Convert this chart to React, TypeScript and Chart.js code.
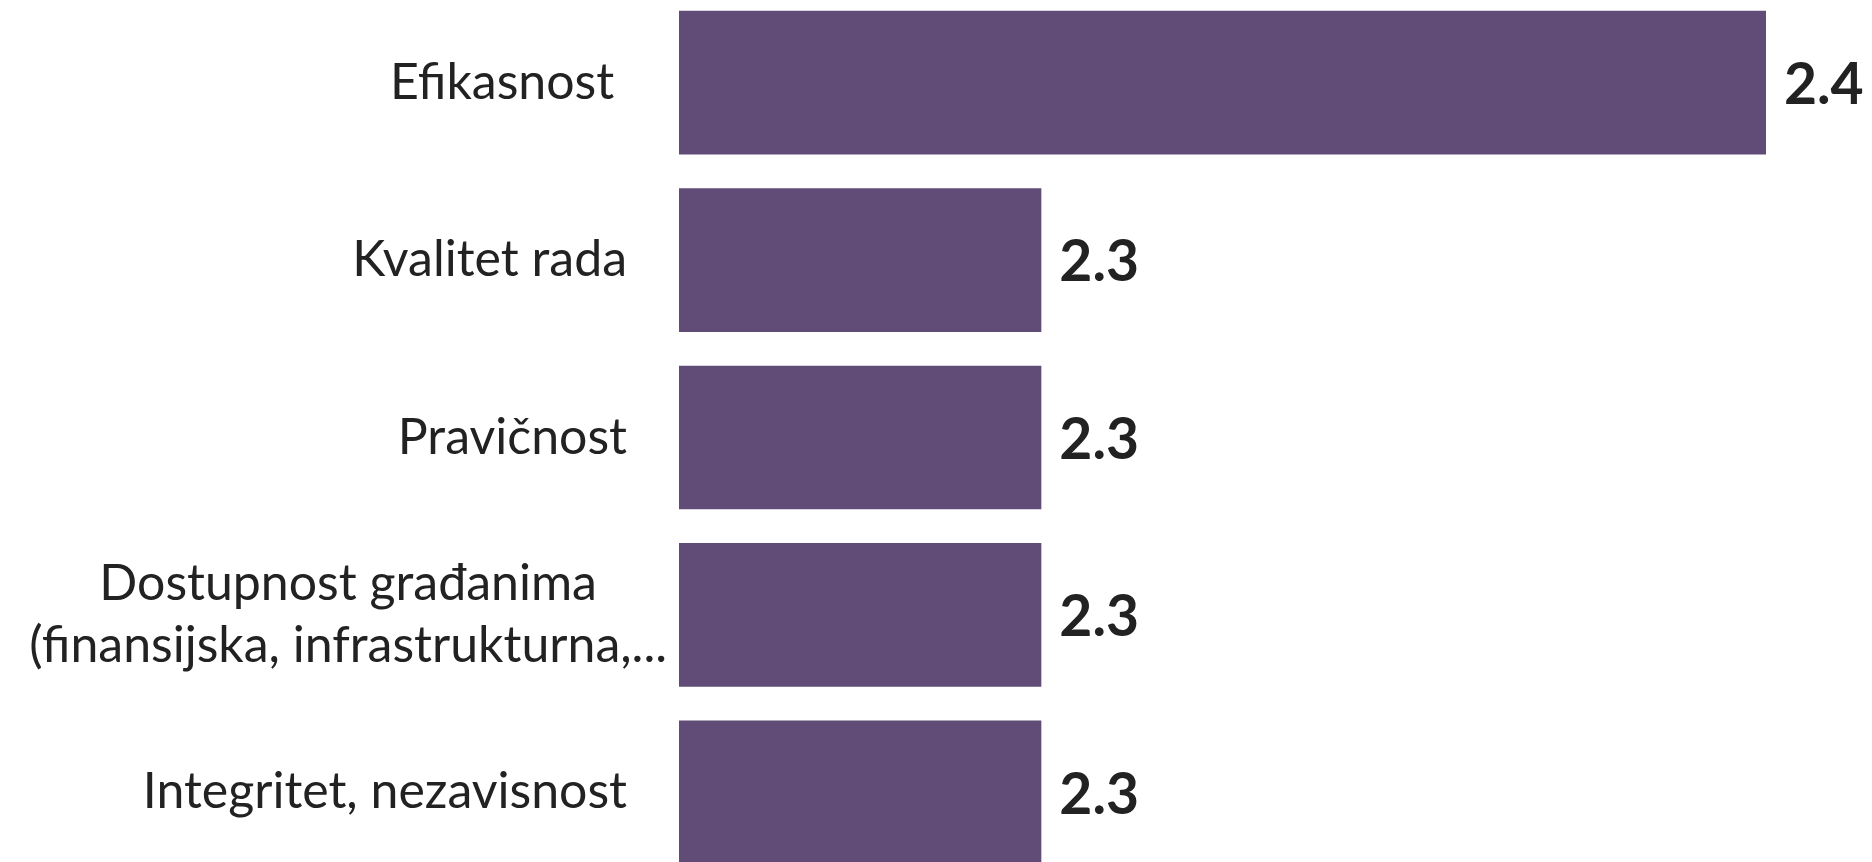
import React, { useEffect, useRef } from "react";
import { Chart, registerables } from "chart.js";

Chart.register(...registerables);

const categories: (string | string[])[] = [
  "Efikasnost ",
  "Kvalitet rada",
  "Pravičnost",
  ["Dostupnost građanima", "(finansijska, infrastrukturna,..."],
  "Integritet, nezavisnost",
];
const values: number[] = [2.4, 2.3, 2.3, 2.3, 2.3];
const axisMin = 2.25;
const axisMax = 2.4;

const BAR_COLOR = "#614C77";
const TEXT_COLOR = "#222222";
const LABEL_FONT = "50px Lato";
const VALUE_FONT = "bold 57px Lato";

const labelPlugin = {
  id: "customLabels",
  afterDatasetsDraw(chart: any) {
    const ctx = chart.ctx;
    const yScale = chart.scales.y;
    const area = chart.chartArea;
    const meta = chart.getDatasetMeta(0);
    ctx.save();
    // value labels
    ctx.font = VALUE_FONT;
    ctx.fillStyle = TEXT_COLOR;
    ctx.textAlign = "left";
    ctx.textBaseline = "middle";
    meta.data.forEach((bar: any, i: number) => {
      ctx.fillText(values[i].toFixed(1), bar.x + 18, bar.y + 3);
    });
    // category labels
    ctx.font = LABEL_FONT;
    const rightEdge = area.left - 52;
    categories.forEach((lab, i) => {
      const y = yScale.getPixelForValue(i);
      if (Array.isArray(lab)) {
        const widest = Math.max(...lab.map((l) => ctx.measureText(l).width));
        const cx = area.left - 12 - widest / 2;
        const lh = 62;
        const y0 = y - ((lab.length - 1) * lh) / 2;
        ctx.textAlign = "center";
        lab.forEach((l, k) => ctx.fillText(l, cx, y0 + k * lh));
      } else {
        ctx.textAlign = "right";
        ctx.fillText(lab, rightEdge, y);
      }
    });
    ctx.restore();
  },
};

export default function App() {
  const ref = useRef<HTMLCanvasElement>(null);
  useEffect(() => {
    if (!ref.current) return;
    const chart = new Chart(ref.current, {
      type: "bar",
      data: {
        labels: categories as any,
        datasets: [
          {
            data: values,
            backgroundColor: BAR_COLOR,
            borderWidth: 0,
            categoryPercentage: 0.81,
            barPercentage: 1.0,
          },
        ],
      },
      options: {
        indexAxis: "y",
        animation: false,
        responsive: false,
        maintainAspectRatio: false,
        layout: { padding: { left: 679, right: 106, top: 0, bottom: 0 } },
        plugins: {
          legend: { display: false },
          tooltip: { enabled: false },
        },
        scales: {
          x: { display: false, min: axisMin, max: axisMax },
          y: { display: false },
        },
      },
      plugins: [labelPlugin],
    });
    return () => chart.destroy();
  }, []);
  return (
    <div style={{ position: "fixed", left: 0, top: -6, width: 1872, height: 887, background: "#fff" }}>
      <canvas ref={ref} width={1872} height={887} style={{ display: "block" }} />
    </div>
  );
}
